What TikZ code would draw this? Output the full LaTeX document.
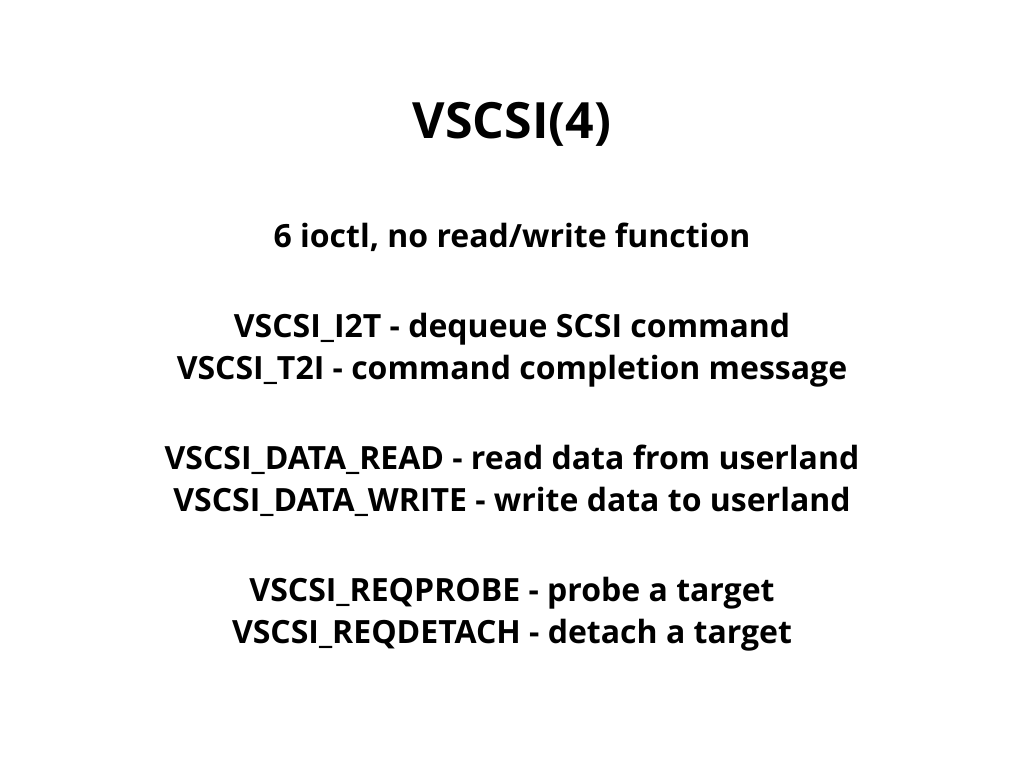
\documentclass[tikz,border=0pt]{standalone}
\usepackage{fontspec}
\setmainfont{Open Sans}
\begin{document}
\begin{tikzpicture}[x=1pt,y=-1pt,
  title/.style={anchor=base,inner sep=0pt,font=\fontsize{50}{60}\selectfont\bfseries},
  body/.style={anchor=base,inner sep=0pt,font=\fontsize{32}{38}\selectfont\bfseries}]
\useasboundingbox[fill=white] (0,0) rectangle (1024,768);
\node[title] (t) at (512,138) {VSCSI(4)};
\node[body] (l0) at (512,247) {6 ioctl, no read/write function};
\node[body] (l1) at (512,337) {VSCSI\_I2T - dequeue SCSI command};
\node[body] (l2) at (512,379) {VSCSI\_T2I - command completion message};
\node[body] (l3) at (512,469) {VSCSI\_DATA\_READ - read data from userland};
\node[body] (l4) at (512,511) {VSCSI\_DATA\_WRITE - write data to userland};
\node[body] (l5) at (512,601) {VSCSI\_REQPROBE - probe a target};
\node[body] (l6) at (512,643) {VSCSI\_REQDETACH - detach a target};
\end{tikzpicture}
\end{document}
